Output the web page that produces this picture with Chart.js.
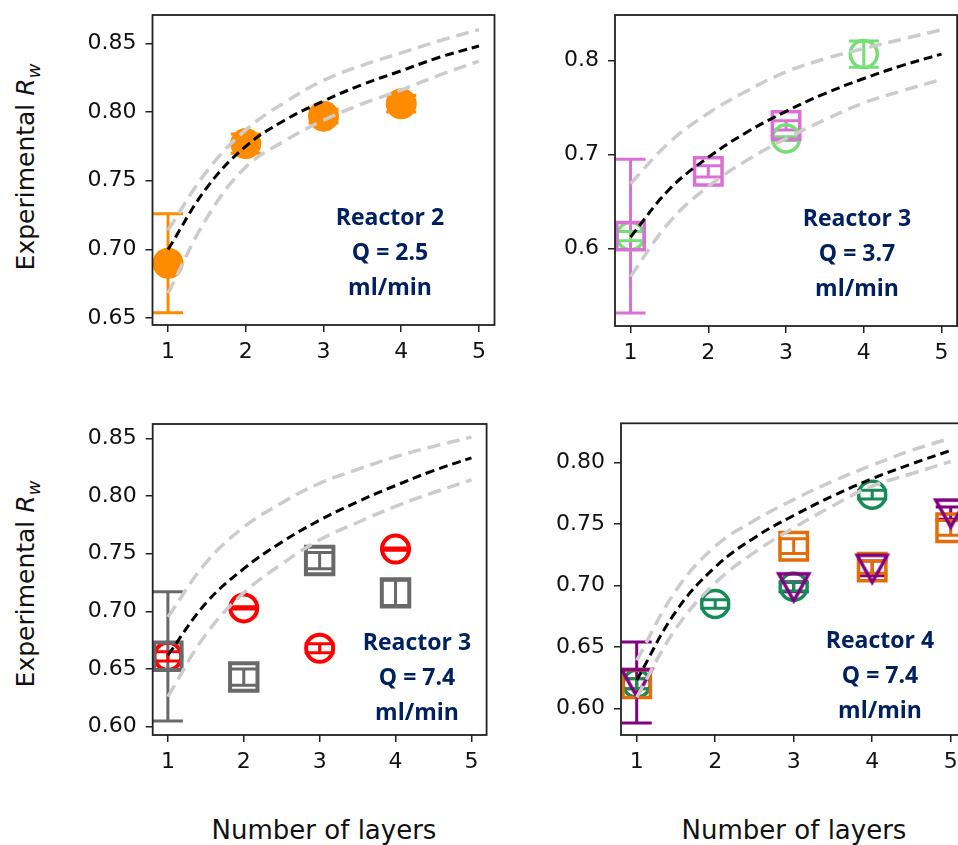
<!DOCTYPE html>
<html>
<head>
<meta charset="utf-8">
<script src="https://cdn.jsdelivr.net/npm/chart.js@4"></script>
<style>
  body { margin: 0; width: 958px; height: 845px; overflow: hidden; background: #fff; position: relative; }
  .panel { position: absolute; }
  .ylab { position: absolute; font-family: 'DejaVu Sans'; font-size: 25px; color: #111; white-space: nowrap;
          transform: translate(-50%, -50%) rotate(-90deg); line-height: 1; }
  .xlab { position: absolute; font-family: 'DejaVu Sans'; font-size: 26px; color: #111; white-space: nowrap;
          transform: translate(-50%, -50%); line-height: 1; }
  .note { position: absolute; font-family: 'Open Sans'; font-weight: 700; font-size: 23px; color: #002060;
          text-align: center; line-height: 35px; transform: translateX(-50%); white-space: nowrap; }
</style>
</head>
<body>
<div class="ylab" style="left:28px; top:167px;">Experimental <i>R</i><sub style="font-size:18px"><i>w</i></sub></div>
<div class="ylab" style="left:28px; top:584px;">Experimental <i>R</i><sub style="font-size:18px"><i>w</i></sub></div>
<div class="xlab" style="left:324px; top:830px;">Number of layers</div>
<div class="xlab" style="left:794px; top:830px;">Number of layers</div>

<div class="note" style="left:390px; top:199px;">Reactor 2<br>Q = 2.5<br>ml/min</div>
<div class="note" style="left:857px; top:200px;">Reactor 3<br>Q = 3.7<br>ml/min</div>
<div class="note" style="left:417px; top:624px;">Reactor 3<br>Q = 7.4<br>ml/min</div>
<div class="note" style="left:880px; top:622px;">Reactor 4<br>Q = 7.4<br>ml/min</div>

<script>
// x ticks and the x positions where the fitted curves were read
const layers = [1, 2, 3, 4, 5];
const fitLayers = [1, 1.5, 2, 2.5, 3, 3.5, 4, 4.5, 5];

// Reactor 2, Q = 2.5
const r2Layers = [1, 2, 3, 4];
const r2Rw = [0.690, 0.777, 0.797, 0.806];
const r2Err = [0.036, 0.007, 0.005, 0.006];
const r2Fit = [0.700, 0.745, 0.775, 0.794, 0.808, 0.820, 0.830, 0.840, 0.848];
const r2Upper = [0.714, 0.757, 0.787, 0.807, 0.823, 0.834, 0.843, 0.852, 0.860];
const r2Lower = [0.668, 0.723, 0.760, 0.779, 0.794, 0.806, 0.816, 0.827, 0.837];
const r2Ticks = [0.65, 0.70, 0.75, 0.80, 0.85];

// Reactor 3, Q = 3.7
const r3aSqLayers = [1, 2, 3];
const r3aSqRw = [0.613, 0.682, 0.731];
const r3aSqErr = [0.082, 0.006, 0.005];
const r3aCiLayers = [1, 3, 4];
const r3aCiRw = [0.613, 0.717, 0.807];
const r3aCiErr = [0.005, 0.002, 0.014];
const r3aFit = [0.612, 0.663, 0.697, 0.724, 0.746, 0.765, 0.781, 0.795, 0.807];
const r3aUpper = [0.669, 0.713, 0.744, 0.768, 0.788, 0.802, 0.813, 0.823, 0.833];
const r3aLower = [0.570, 0.628, 0.666, 0.694, 0.717, 0.737, 0.755, 0.768, 0.780];
const r3aTicks = [0.6, 0.7, 0.8];

// Reactor 3, Q = 7.4
const r3bSqLayers = [1, 2, 3, 4];
const r3bSqRw = [0.661, 0.643, 0.744, 0.716];
const r3bSqErr = [0.056, 0.007, 0.007, 0.011];
const r3bCiLayers = [1, 2, 3, 4];
const r3bCiRw = [0.661, 0.703, 0.668, 0.754];
const r3bCiErr = [0.004, 0.001, 0.004, 0.001];
const r3bFit = [0.662, 0.707, 0.737, 0.760, 0.779, 0.795, 0.809, 0.822, 0.833];
const r3bUpper = [0.695, 0.742, 0.773, 0.794, 0.811, 0.823, 0.834, 0.843, 0.851];
const r3bLower = [0.626, 0.680, 0.716, 0.741, 0.762, 0.777, 0.791, 0.803, 0.814];
const r3bTicks = [0.60, 0.65, 0.70, 0.75, 0.80, 0.85];

// Reactor 4, Q = 7.4
const r4CiLayers = [1, 2, 3, 4];
const r4CiRw = [0.620, 0.685, 0.699, 0.774];
const r4CiErr = [0.004, 0.0035, 0.0035, 0.0035];
const r4SqLayers = [1, 3, 4, 5];
const r4SqRw = [0.620, 0.732, 0.715, 0.747];
const r4SqErr = [0.004, 0.006, 0.005, 0.006];
const r4TrLayers = [1, 3, 4, 5];
const r4TrRw = [0.621, 0.699, 0.714, 0.759];
const r4TrErr = [0.033, 0.004, 0.006, 0.005];
const r4Fit = [0.623, 0.679, 0.715, 0.739, 0.757, 0.773, 0.787, 0.799, 0.810];
const r4Upper = [0.639, 0.696, 0.732, 0.753, 0.770, 0.785, 0.798, 0.810, 0.820];
const r4Lower = [0.609, 0.665, 0.702, 0.727, 0.747, 0.765, 0.781, 0.791, 0.801];
const r4Ticks = [0.60, 0.65, 0.70, 0.75, 0.80];

const frameColor = '#222';
const tickFont = { family: 'DejaVu Sans', size: 22 };

function pts(xs, ys) {
  return xs.map((x, i) => ({ x: x, y: ys[i] }));
}

// matplotlib style 'v' marker, bounding box centred on the point
function triangleDown(color) {
  const c = document.createElement('canvas');
  c.width = 44; c.height = 44;
  const g = c.getContext('2d');
  g.strokeStyle = color;
  g.lineWidth = 3.5;
  g.lineJoin = 'miter';
  g.beginPath();
  g.moveTo(7, 9); g.lineTo(37, 9); g.lineTo(22, 36); g.closePath();
  g.stroke();
  return c;
}

function curve(xs, ys, color, width, dash) {
  return {
    type: 'line', data: pts(xs, ys), borderColor: color, borderWidth: width,
    borderDash: dash, pointRadius: 0, tension: 0.4, fill: false
  };
}

function markers(xs, ys, errs, color, style, radius, opts) {
  return Object.assign({
    type: 'scatter', data: pts(xs, ys), errors: errs,
    borderColor: color, backgroundColor: 'rgba(0,0,0,0)',
    pointStyle: style, pointRadius: radius, pointHoverRadius: radius, pointBorderWidth: 3.5
  }, opts || {});
}

// vertical error bars with caps, drawn under the markers
const errorBars = {
  id: 'errorBars',
  beforeDatasetsDraw(chart) {
    const ctx = chart.ctx;
    const x = chart.scales.x, y = chart.scales.y;
    chart.data.datasets.forEach(ds => {
      if (!ds.errors) return;
      ctx.save();
      ctx.strokeStyle = ds.borderColor;
      ctx.lineWidth = 3;
      ds.data.forEach((p, i) => {
        const px = x.getPixelForValue(p.x);
        const top = y.getPixelForValue(p.y + ds.errors[i]);
        const bot = y.getPixelForValue(p.y - ds.errors[i]);
        ctx.beginPath();
        ctx.moveTo(px, top); ctx.lineTo(px, bot);
        ctx.moveTo(px - 15, top); ctx.lineTo(px + 15, top);
        ctx.moveTo(px - 15, bot); ctx.lineTo(px + 15, bot);
        ctx.stroke();
      });
      ctx.restore();
    });
  }
};

const frame = {
  id: 'frame',
  afterDatasetsDraw(chart) {
    const a = chart.chartArea, ctx = chart.ctx;
    ctx.save();
    ctx.strokeStyle = frameColor;
    ctx.lineWidth = 1.8;
    ctx.strokeRect(a.left, a.top, a.right - a.left, a.bottom - a.top);
    ctx.restore();
  }
};

function makePanel(p) {
  const wrap = document.createElement('div');
  wrap.className = 'panel';
  wrap.style.left = p.left + 'px';
  wrap.style.top = p.top + 'px';
  const canvas = document.createElement('canvas');
  canvas.width = p.width; canvas.height = p.height;
  canvas.style.width = p.width + 'px'; canvas.style.height = p.height + 'px';
  wrap.appendChild(canvas);
  document.body.insertBefore(wrap, document.body.firstChild);

  new Chart(canvas, {
    type: 'scatter',
    data: { datasets: p.datasets },
    options: {
      responsive: false,
      animation: false,
      events: [],
      layout: { padding: { top: p.padTop, right: p.padRight, left: 0, bottom: 0 } },
      plugins: { legend: { display: false }, tooltip: { enabled: false } },
      scales: {
        x: {
          type: 'linear', min: 0.8, max: 5.2,
          afterBuildTicks: s => { s.ticks = layers.map(v => ({ value: v })); },
          afterFit: s => { s.height = p.xAxisH; },
          grid: { drawOnChartArea: false, tickLength: 7, color: frameColor, lineWidth: 1.5 },
          border: { display: false },
          ticks: { font: tickFont, color: '#111', padding: 7, maxRotation: 0, minRotation: 0,
                   autoSkip: false, callback: v => String(v) }
        },
        y: {
          type: 'linear', min: p.yMin, max: p.yMax,
          afterBuildTicks: s => { s.ticks = p.yTicks.map(v => ({ value: v })); },
          afterFit: s => { s.width = p.yAxisW; },
          grid: { drawOnChartArea: false, tickLength: 7, color: frameColor, lineWidth: 1.5 },
          border: { display: false },
          ticks: { font: tickFont, color: '#111', padding: 9, autoSkip: false,
                   callback: v => v.toFixed(p.decimals) }
        }
      }
    },
    plugins: [errorBars, frame]
  });
}

const black = '#000000', band = '#cccccc';
const dBlack = [9, 5], dBand = [13, 7];

// top left: Reactor 2, Q = 2.5
makePanel({
  left: 60, top: -10, width: 450, height: 390, padTop: 25, padRight: 14.4, yAxisW: 92.5, xAxisH: 55,
  yMin: 0.645, yMax: 0.8706, yTicks: r2Ticks, decimals: 2,
  datasets: [
    curve(fitLayers, r2Fit, black, 3, dBlack),
    curve(fitLayers, r2Upper, band, 3.5, dBand),
    curve(fitLayers, r2Lower, band, 3.5, dBand),
    markers(r2Layers, r2Rw, r2Err, '#FF8C00', 'circle', 15.5,
            { backgroundColor: '#FF8C00', pointBorderWidth: 0 })
  ]
});

// top right: Reactor 3, Q = 3.7
makePanel({
  left: 530, top: -10, width: 450, height: 390, padTop: 25, padRight: 21, yAxisW: 85, xAxisH: 54,
  yMin: 0.5172, yMax: 0.8487, yTicks: r3aTicks, decimals: 1,
  datasets: [
    curve(fitLayers, r3aFit, black, 3, dBlack),
    curve(fitLayers, r3aUpper, band, 3.5, dBand),
    curve(fitLayers, r3aLower, band, 3.5, dBand),
    markers(r3aSqLayers, r3aSqRw, r3aSqErr, '#DA70D6', 'rect', 19.4),
    markers(r3aCiLayers, r3aCiRw, r3aCiErr, '#77DD77', 'circle', 13.5)
  ]
});

// bottom left: Reactor 3, Q = 7.4
makePanel({
  left: 60, top: 400, width: 450, height: 390, padTop: 24, padRight: 14.4, yAxisW: 92.7, xAxisH: 55,
  yMin: 0.5928, yMax: 0.8624, yTicks: r3bTicks, decimals: 2,
  datasets: [
    curve(fitLayers, r3bFit, black, 3, dBlack),
    curve(fitLayers, r3bUpper, band, 3.5, dBand),
    curve(fitLayers, r3bLower, band, 3.5, dBand),
    markers(r3bSqLayers, r3bSqRw, r3bSqErr, '#696969', 'rect', 19.4, { pointBorderWidth: 4 }),
    markers(r3bCiLayers, r3bCiRw, r3bCiErr, '#FF0000', 'circle', 13.5, { pointBorderWidth: 4 })
  ]
});

// bottom right: Reactor 4, Q = 7.4
makePanel({
  left: 530, top: 400, width: 460, height: 390, padTop: 23.3, padRight: 23.6, yAxisW: 91, xAxisH: 55,
  yMin: 0.5783, yMax: 0.8321, yTicks: r4Ticks, decimals: 2,
  datasets: [
    curve(fitLayers, r4Fit, black, 3, dBlack),
    curve(fitLayers, r4Upper, band, 3.5, dBand),
    curve(fitLayers, r4Lower, band, 3.5, dBand),
    markers(r4TrLayers, r4TrRw, r4TrErr, '#800080', triangleDown('#800080'), 17),
    markers(r4SqLayers, r4SqRw, r4SqErr, '#E46C0A', 'rect', 19.4),
    markers(r4CiLayers, r4CiRw, r4CiErr, '#168A57', 'circle', 13.5)
  ]
});
</script>
</body>
</html>
